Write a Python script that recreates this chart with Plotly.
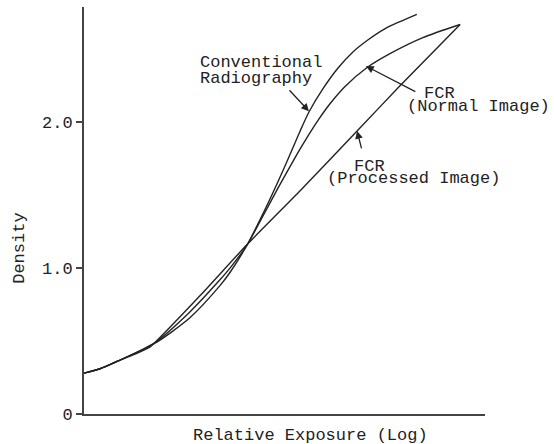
import plotly.graph_objects as go

# Characteristic curves (relative log exposure in arbitrary units, density)
conv_x = [0, 0.40, 0.82, 1.77, 2.64, 3.39, 3.64, 4.07, 4.44, 4.80, 5.14, 5.39, 5.61, 5.96, 6.33, 6.70, 7.06, 7.50, 7.88, 8.30]
conv_d = [0.28, 0.31, 0.36, 0.485, 0.66, 0.88, 0.97, 1.16, 1.36, 1.57, 1.78, 1.94, 2.07, 2.23, 2.37, 2.48, 2.56, 2.64, 2.69, 2.74]

normal_x = [0, 0.40, 0.82, 1.77, 2.64, 3.39, 3.64, 4.07, 4.44, 4.84, 5.31, 5.56, 5.84, 6.13, 6.51, 7.06, 7.63, 8.45, 9.38]
normal_d = [0.28, 0.31, 0.36, 0.49, 0.70, 0.92, 1.00, 1.16, 1.345, 1.55, 1.78, 1.895, 2.015, 2.125, 2.245, 2.375, 2.47, 2.58, 2.67]

proc_x = [0, 0.40, 0.82, 1.27, 1.65, 2.89, 4.06, 5.39, 6.81, 7.88, 9.38]
proc_d = [0.28, 0.31, 0.36, 0.41, 0.46, 0.81, 1.16, 1.53, 1.94, 2.25, 2.67]

y_tickvals = [0, 1, 2]
y_ticktext = ["0", "1.0", "2.0"]

FONT = "Liberation Mono, Courier New, monospace"
INK = "#222222"

fig = go.Figure()
for xs, ds, name, sm in [(conv_x, conv_d, "Conventional Radiography", 0.7),
                         (normal_x, normal_d, "FCR (Normal Image)", 0.7),
                         (proc_x, proc_d, "FCR (Processed Image)", 0.4)]:
    fig.add_trace(go.Scatter(x=xs, y=ds, mode="lines", name=name,
                             line=dict(color=INK, width=1.4, shape="spline", smoothing=sm),
                             showlegend=False, hoverinfo="skip"))

# text labels (data coordinates)
labels = [
    ("Conventional", 2.84, 2.41),
    ("Radiography", 2.84, 2.30),
    ("FCR", 8.43, 2.20),
    ("(Normal Image)", 8.00, 2.11),
    ("FCR", 6.68, 1.70),
    ("(Processed Image)", 6.01, 1.612),
]
for txt, x, y in labels:
    fig.add_annotation(x=x, y=y, xref="x", yref="y", text=txt, showarrow=False,
                       xanchor="left", yanchor="middle",
                       font=dict(family=FONT, size=17, color=INK))

# arrows: (tip_x, tip_y, tail_x, tail_y)
arrows = [
    (5.61, 2.075, 5.09, 2.23),
    (7.03, 2.385, 8.30, 2.205),
    (6.81, 1.94, 6.93, 1.81),
]
for tx, ty, ax, ay in arrows:
    fig.add_annotation(x=tx, y=ty, ax=ax, ay=ay, xref="x", yref="y", axref="x", ayref="y",
                       text="", showarrow=True, arrowhead=2, arrowsize=1.2,
                       arrowwidth=1.3, arrowcolor=INK)

# axis titles
fig.add_annotation(x=0.564, y=-0.052, xref="paper", yref="paper", text="Relative Exposure (Log)",
                   showarrow=False, xanchor="center", yanchor="middle",
                   font=dict(family=FONT, size=17, color=INK))
fig.add_annotation(x=-0.16, y=0.408, xref="paper", yref="paper", text="Density",
                   showarrow=False, xanchor="center", yanchor="middle", textangle=-90,
                   font=dict(family=FONT, size=17, color=INK))

fig.update_xaxes(range=[0, 10], showline=True, linewidth=2, linecolor="#444",
                 showgrid=False, zeroline=False, showticklabels=False, ticks="")
fig.update_yaxes(range=[0, 2.79], showline=True, linewidth=2, linecolor="#444",
                 showgrid=False, zeroline=False, tickvals=y_tickvals, ticktext=y_ticktext,
                 ticks="outside", ticklen=6, tickwidth=1.5, tickcolor="#444",
                 tickfont=dict(family=FONT, size=17, color=INK))

fig.update_layout(width=554, height=444, margin=dict(l=84, r=69, t=7, b=30),
                  plot_bgcolor="white", paper_bgcolor="white")

fig.write_html("out.html")
